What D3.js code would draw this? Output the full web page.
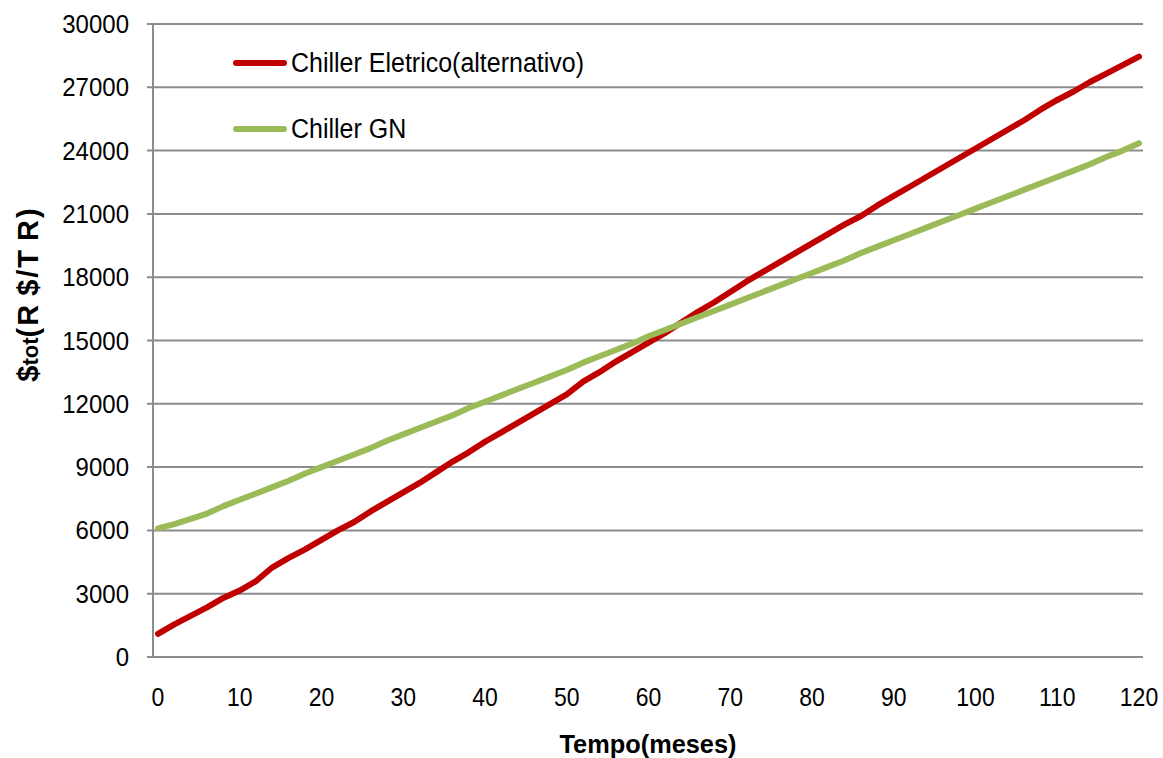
<!DOCTYPE html>
<html>
<head>
<meta charset="utf-8">
<script src="https://cdn.jsdelivr.net/npm/d3@7"></script>
<style>
  body { margin: 0; background: #fff; }
  text { font-family: "Liberation Sans", Arial, sans-serif; fill: #000; }
</style>
</head>
<body>
<script>
const width = 1163;
const height = 758;

// data (every 2 months)
const months = [0, 2, 4, 6, 8, 10, 12, 14, 16, 18, 20, 22, 24, 26, 28, 30, 32, 34, 36, 38, 40,
    42, 44, 46, 48, 50, 52, 54, 56, 58, 60, 62, 64, 66, 68, 70, 72, 74, 76, 78, 80,
    82, 84, 86, 88, 90, 92, 94, 96, 98, 100, 102, 104, 106, 108, 110, 112, 114, 116, 118, 120];

const eletrico = [1100, 1550, 1950, 2350, 2800, 3150, 3600, 4250, 4700, 5100, 5550,
    6000, 6400, 6900, 7350, 7800, 8250, 8750, 9250, 9700, 10200,
    10650, 11100, 11550, 12000, 12450, 13050, 13500, 14000, 14450, 14900,
    15350, 15850, 16350, 16800, 17300, 17800, 18250, 18700, 19150, 19600,
    20050, 20500, 20900, 21400, 21850, 22300, 22750, 23200, 23650, 24100,
    24550, 25000, 25450, 25950, 26400, 26800, 27250, 27650, 28050, 28450];

const gn = [6100, 6300, 6550, 6800, 7150, 7450, 7750, 8050, 8350, 8700, 9000,
    9300, 9600, 9900, 10250, 10550, 10850, 11150, 11450, 11800, 12100,
    12400, 12700, 13000, 13300, 13600, 13950, 14250, 14550, 14850, 15200,
    15500, 15800, 16100, 16400, 16700, 17000, 17300, 17600, 17900, 18200,
    18500, 18800, 19150, 19450, 19750, 20050, 20350, 20650, 20950, 21250,
    21550, 21850, 22150, 22450, 22750, 23050, 23350, 23700, 24000, 24350];

const yTicks = [0, 3000, 6000, 9000, 12000, 15000, 18000, 21000, 24000, 27000, 30000];
const xTicks = [0, 10, 20, 30, 40, 50, 60, 70, 80, 90, 100, 110, 120];

const seriesNames = ["Chiller Eletrico(alternativo)", "Chiller GN"];
const seriesColors = ["#C00000", "#9BBB59"];

const svg = d3.select("body").append("svg")
    .attr("width", width)
    .attr("height", height);

const xScale = d3.scaleLinear().domain([0, 120]).range([158, 1139]);
const yScale = d3.scaleLinear().domain([0, 30000]).range([657, 24]);

const axisLeftX = 153;
const gridRight = 1143;

// gridlines + y ticks
svg.append("g").attr("class", "grid")
    .selectAll("line")
    .data(yTicks)
    .enter().append("line")
    .attr("x1", 147)
    .attr("x2", gridRight)
    .attr("y1", d => yScale(d))
    .attr("y2", d => yScale(d))
    .attr("stroke", "#8c8c8c")
    .attr("stroke-width", 2);

// y axis line
svg.append("line")
    .attr("x1", axisLeftX).attr("x2", axisLeftX)
    .attr("y1", yScale(30000)).attr("y2", yScale(0))
    .attr("stroke", "#8c8c8c")
    .attr("stroke-width", 2);

// y tick labels (slightly tall text, like the original)
svg.append("g")
    .selectAll("text")
    .data(yTicks)
    .enter().append("text")
    .attr("transform", d => `translate(129,${yScale(d) + 9}) scale(1,1.1)`)
    .attr("text-anchor", "end")
    .style("font-size", "24px")
    .text(d => d);

// x tick labels
svg.append("g")
    .selectAll("text")
    .data(xTicks)
    .enter().append("text")
    .attr("transform", d => `translate(${xScale(d)},706) scale(1,1.1)`)
    .attr("text-anchor", "middle")
    .style("font-size", "23px")
    .text(d => d);

// lines
const line = d3.line()
    .x((d, i) => xScale(months[i]))
    .y(d => yScale(d));

[eletrico, gn].forEach((s, k) => {
    svg.append("path")
        .datum(s)
        .attr("d", line)
        .attr("fill", "none")
        .attr("stroke", seriesColors[k])
        .attr("stroke-width", 6)
        .attr("stroke-linecap", "round")
        .attr("stroke-linejoin", "round");
});

// legend
const legendY = [63, 129];
seriesNames.forEach((name, k) => {
    svg.append("line")
        .attr("x1", 236).attr("x2", 284)
        .attr("y1", legendY[k]).attr("y2", legendY[k])
        .attr("stroke", seriesColors[k])
        .attr("stroke-width", 6)
        .attr("stroke-linecap", "round");
    svg.append("text")
        .attr("transform", `translate(291,${legendY[k] + 9}) scale(1,1.12)`)
        .style("font-size", "25px")
        .text(name);
});

// axis titles
svg.append("text")
    .attr("transform", "translate(648,753)")
    .attr("text-anchor", "middle")
    .attr("textLength", 177)
    .attr("lengthAdjust", "spacingAndGlyphs")
    .style("font-size", "25px")
    .style("font-weight", "bold")
    .text("Tempo(meses)");

const yTitle = svg.append("text")
    .attr("transform", "translate(38,294) rotate(-90)")
    .attr("text-anchor", "middle")
    .style("font-size", "29px")
    .style("font-weight", "bold");
yTitle.append("tspan").text("$");
yTitle.append("tspan").style("font-size", "22px").text("tot");
yTitle.append("tspan").style("letter-spacing", "2px").text("(R");
yTitle.append("tspan").attr("dx", 7).style("letter-spacing", "2px").text("$/T");
yTitle.append("tspan").attr("dx", 7).style("letter-spacing", "2px").text("R)");
</script>
</body>
</html>
